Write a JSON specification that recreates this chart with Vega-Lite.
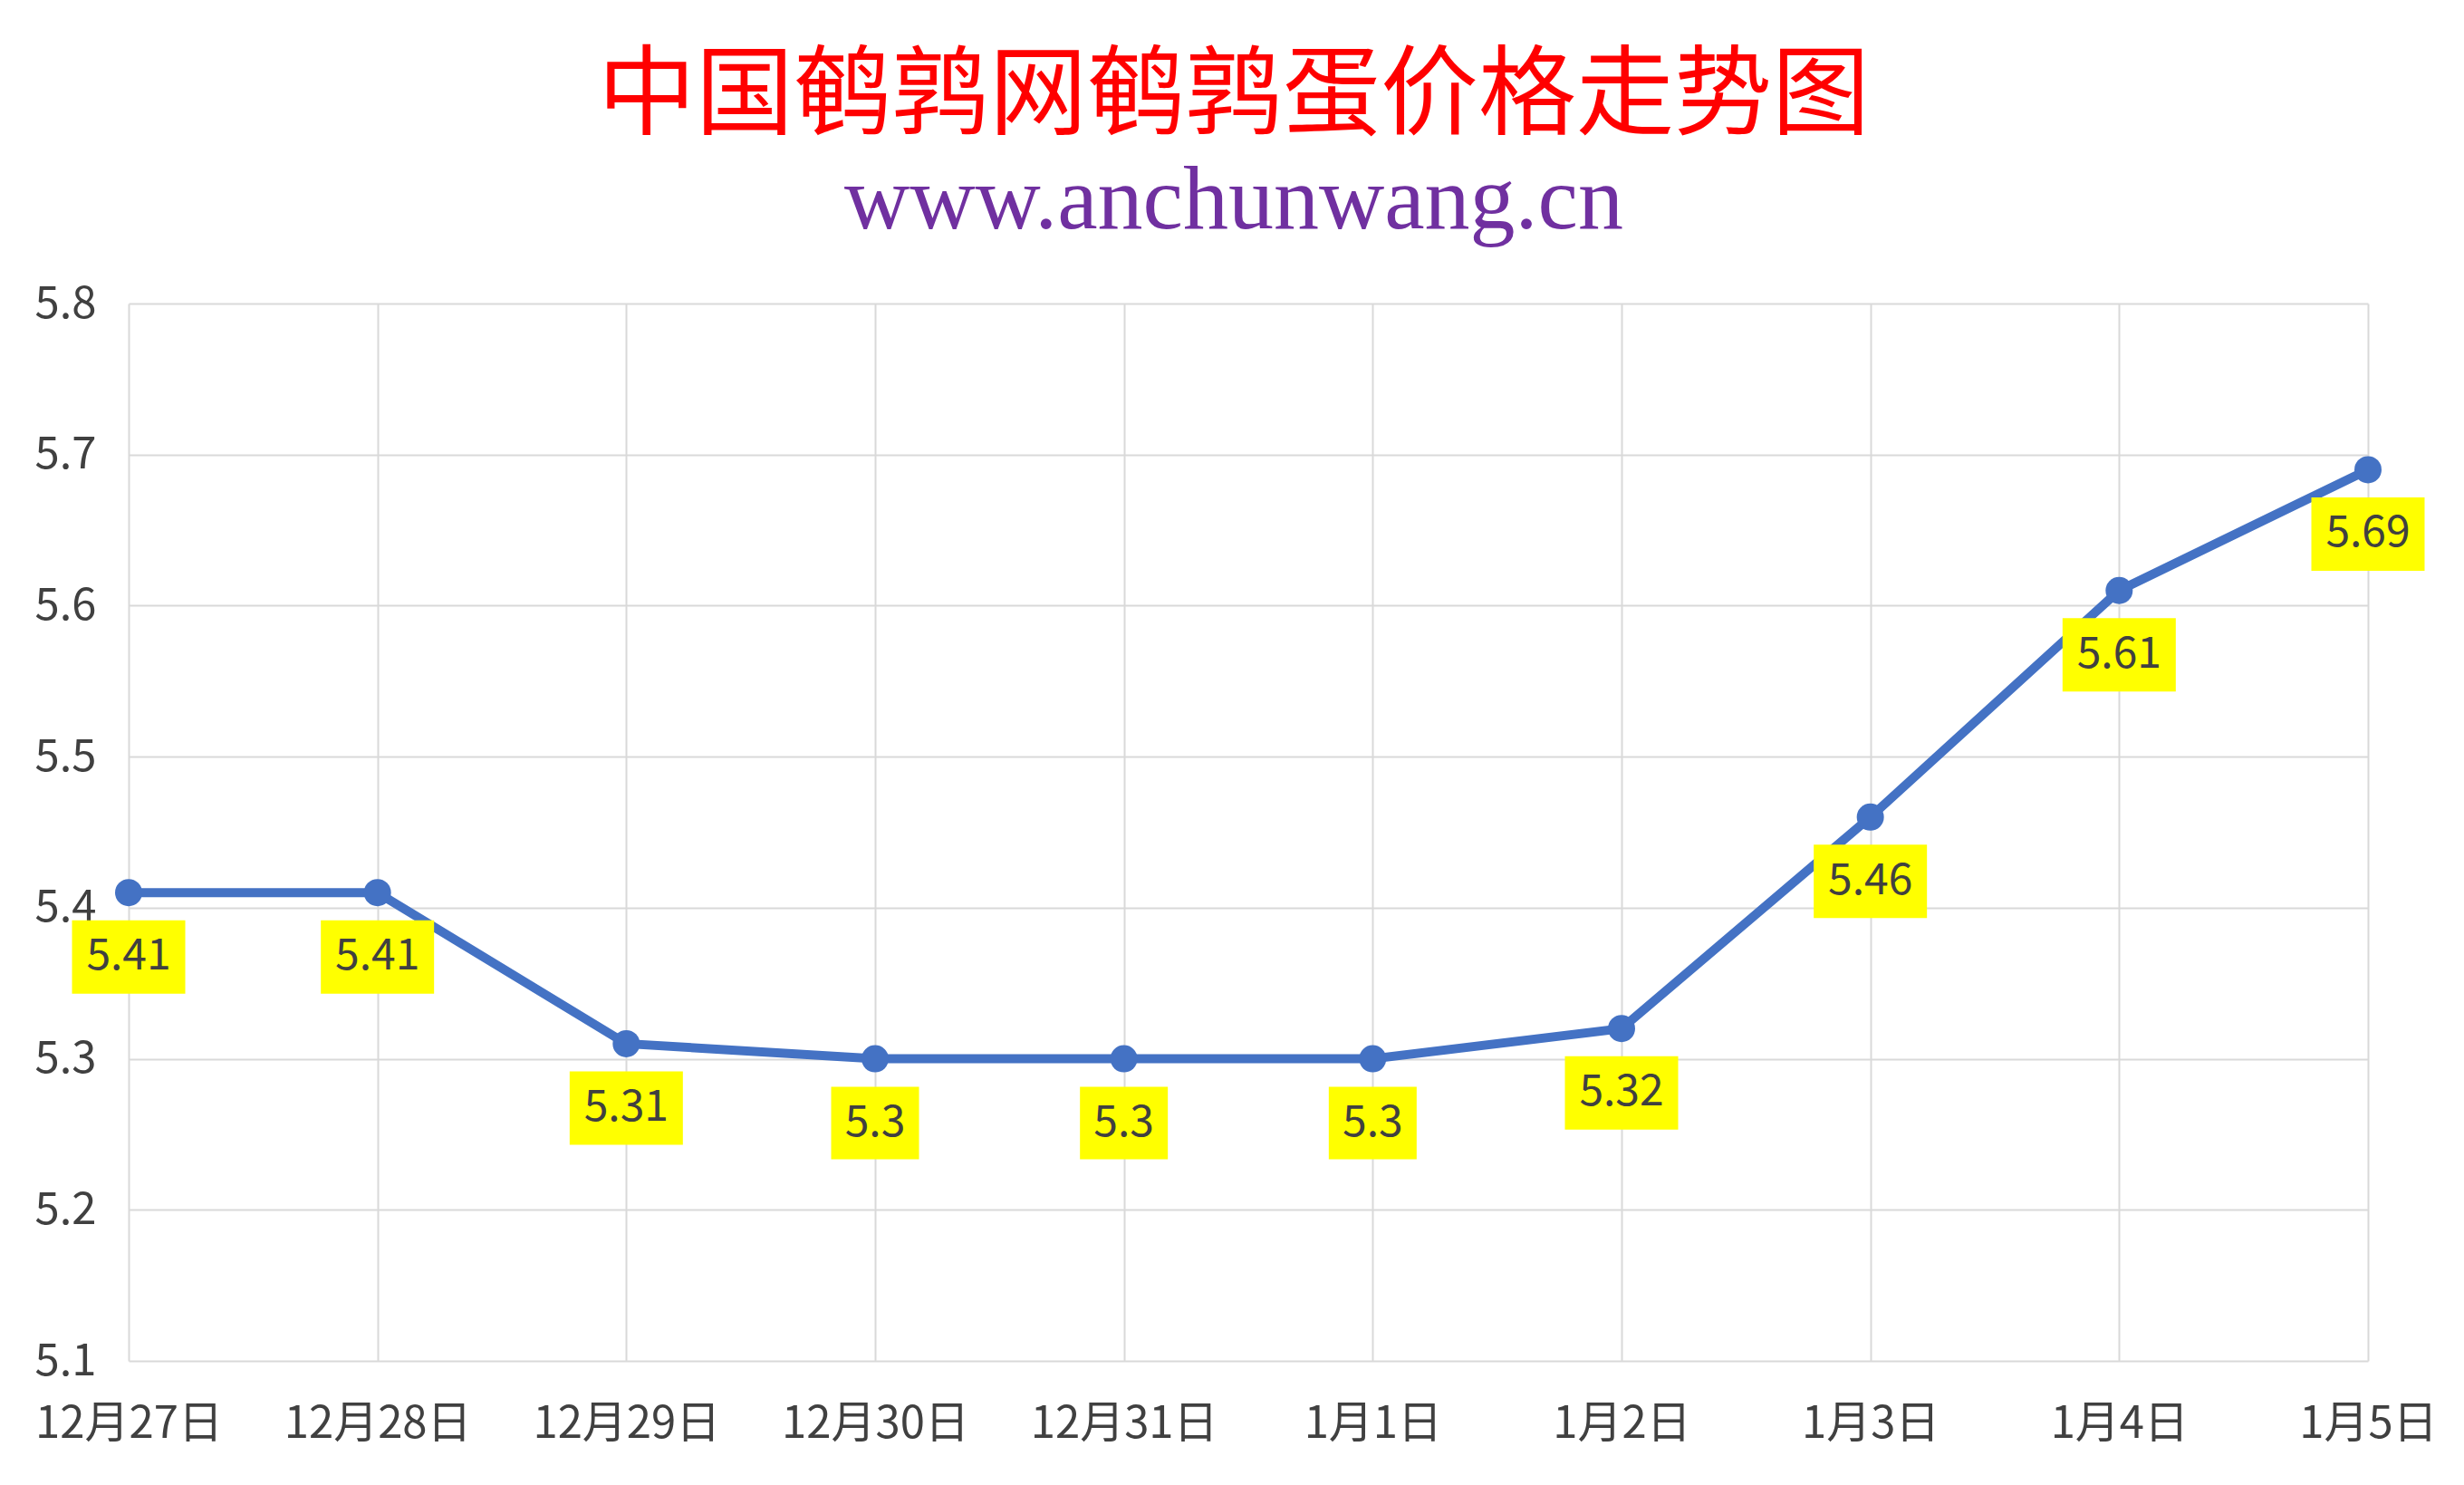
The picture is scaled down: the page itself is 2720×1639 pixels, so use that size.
{
  "$schema": "https://vega.github.io/schema/vega-lite/v6.json",
  "description": "中国鹌鹑网鹌鹑蛋价格走势图",
  "width": 2472,
  "height": 1167,
  "autosize": "none",
  "padding": {"left": 142, "top": 335, "right": 106, "bottom": 137},
  "background": "white",
  "title": {
    "text": "中国鹌鹑网鹌鹑蛋价格走势图",
    "subtitle": "www.anchunwang.cn",
    "anchor": "middle",
    "frame": "group",
    "dx": -16,
    "offset": 38,
    "font": "Noto Sans CJK SC",
    "fontSize": 108,
    "fontWeight": "normal",
    "color": "#FF0000",
    "subtitleFont": "Liberation Serif",
    "subtitleFontSize": 100,
    "subtitleColor": "#7030A0",
    "subtitlePadding": 10
  },
  "data": {
    "values": [
      {"date": "12月27日", "price": 5.41},
      {"date": "12月28日", "price": 5.41},
      {"date": "12月29日", "price": 5.31},
      {"date": "12月30日", "price": 5.3},
      {"date": "12月31日", "price": 5.3},
      {"date": "1月1日", "price": 5.3},
      {"date": "1月2日", "price": 5.32},
      {"date": "1月3日", "price": 5.46},
      {"date": "1月4日", "price": 5.61},
      {"date": "1月5日", "price": 5.69}
    ]
  },
  "encoding": {
    "x": {
      "field": "date",
      "type": "ordinal",
      "sort": null,
      "scale": {"type": "point", "padding": 0},
      "axis": {
        "title": null,
        "grid": true,
        "domain": false,
        "ticks": false,
        "labelAngle": 0,
        "labelLimit": 0,
        "labelPadding": 45,
        "labelFontSize": 49,
        "labelFont": "Noto Sans CJK SC",
        "labelColor": "#404040"
      }
    },
    "y": {
      "field": "price",
      "type": "quantitative",
      "scale": {"domain": [5.1, 5.8], "zero": false, "nice": false},
      "axis": {
        "title": null,
        "values": [5.1, 5.2, 5.3, 5.4, 5.5, 5.6, 5.7, 5.8],
        "format": ".1f",
        "grid": true,
        "domain": false,
        "ticks": false,
        "labelPadding": 36,
        "labelFontSize": 49,
        "labelFont": "Noto Sans CJK SC",
        "labelColor": "#404040"
      }
    }
  },
  "layer": [
    {
      "mark": {"type": "line", "color": "#4472C4", "strokeWidth": 10}
    },
    {
      "mark": {"type": "point", "filled": true, "opacity": 1, "color": "#4472C4", "size": 900}
    },
    {
      "mark": {"type": "point", "filled": true, "opacity": 1, "color": "#FFFF00", "size": 10000, "yOffset": 71},
      "encoding": {
        "shape": {
          "condition": {"test": "datum.price == 5.3", "value": "M-0.97,-0.8H0.97V0.8H-0.97Z"},
          "value": "M-1.25,-0.81H1.25V0.81H-1.25Z"
        }
      }
    },
    {
      "mark": {"type": "text", "font": "Noto Sans CJK SC", "fontSize": 48, "color": "#404040", "yOffset": 71, "baseline": "middle", "align": "center"},
      "encoding": {
        "text": {"field": "price", "type": "quantitative"}
      }
    }
  ],
  "config": {
    "view": {"stroke": null},
    "axis": {"gridColor": "#D9D9D9", "gridWidth": 2}
  }
}
